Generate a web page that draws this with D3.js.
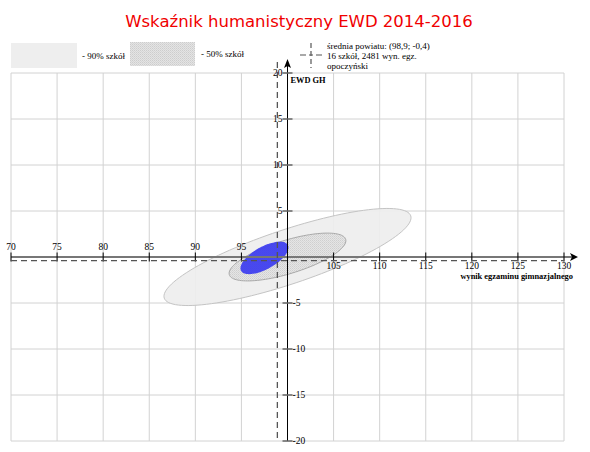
<!DOCTYPE html>
<html>
<head>
<meta charset="utf-8">
<script src="https://cdn.jsdelivr.net/npm/d3@7/dist/d3.min.js"></script>
<style>
  html, body { margin: 0; padding: 0; background: #fff; }
  svg { display: block; }
  .lbl { font-family: "Liberation Serif", serif; font-size: 9.5px; fill: #000; }
  .leg { font-family: "Liberation Serif", serif; font-size: 9px; fill: #000; }
  .ttl { font-family: "Liberation Serif", serif; font-size: 8.4px; font-weight: bold; fill: #000; }
</style>
</head>
<body>
<script>
// ---- data ----
const chartTitle = "Wskaźnik humanistyczny EWD 2014-2016";
const xTicks = [70, 75, 80, 85, 90, 95, 100, 105, 110, 115, 120, 125, 130];
const yTicks = [-20, -15, -10, -5, 0, 5, 10, 15, 20];
const xAxisTitle = "wynik egzaminu gimnazjalnego";
const yAxisTitle = "EWD GH";
const countyMean = [98.9, -0.4];
const countyInfo = ["średnia powiatu: (98,9; -0,4)", "16 szkół, 2481 wyn. egz.", "opoczyński"];
const legendLabels = ["- 90% szkół", "- 50% szkół"];
// ellipses: 90% of schools, 50% of schools, county
const ellipseNames = ["90%", "50%", "powiat"];
const ellipseCx = [100, 100, 97.5];
const ellipseCy = [0, 0, -0.1];
const ellipseA = [14.1, 6.6, 2.9];
const ellipseB = [2.95, 1.82, 1.22];
const ellipseAngle = [18.5, 17, 29];

// ---- layout ----
const W = 590, H = 452;
const svg = d3.select("body").append("svg").attr("width", W).attr("height", H);

const x = d3.scaleLinear().domain([70, 130]).range([11, 564]);
const y = d3.scaleLinear().domain([-20, 20]).range([441, 73]);
const x0 = x(100), y0 = y(0);

const defs = svg.append("defs");
const pat = defs.append("pattern").attr("id", "hatch").attr("patternUnits", "userSpaceOnUse")
  .attr("width", 2).attr("height", 2);
pat.append("rect").attr("width", 2).attr("height", 2).attr("fill", "#e4e4e4");
pat.append("rect").attr("width", 1).attr("height", 1).attr("fill", "#cdcdcd");
pat.append("rect").attr("x", 1).attr("y", 1).attr("width", 1).attr("height", 1).attr("fill", "#d6d6d6");

// title
svg.append("text").attr("x", 299).attr("y", 27).attr("text-anchor", "middle")
  .style("font-family", "'DejaVu Sans', sans-serif").style("font-size", "16.5px")
  .attr("fill", "#f00000").text(chartTitle);

// legend
svg.append("rect").attr("x", 11).attr("y", 43).attr("width", 66).attr("height", 25).attr("fill", "#eeeeee");
svg.append("text").attr("class", "leg").attr("x", 82).attr("y", 59).text(legendLabels[0]);
svg.append("rect").attr("x", 130).attr("y", 42).attr("width", 65).attr("height", 24).attr("fill", "url(#hatch)");
svg.append("text").attr("class", "leg").attr("x", 201).attr("y", 57).text(legendLabels[1]);

const lg = svg.append("g").attr("stroke", "#555").attr("stroke-width", 1.2);
lg.append("line").attr("x1", 311).attr("x2", 311).attr("y1", 43).attr("y2", 68).attr("stroke-dasharray", "5,3");
lg.append("line").attr("x1", 300).attr("x2", 322).attr("y1", 55).attr("y2", 55).attr("stroke-dasharray", "6,3,4,3,6");
countyInfo.forEach((t, i) => {
  svg.append("text").attr("class", "leg").attr("x", 327).attr("y", 48.5 + i * 10).text(t);
});

// grid
const grid = svg.append("g").attr("stroke", "#d2d2d2").attr("stroke-width", 1);
xTicks.forEach(v => grid.append("line").attr("x1", x(v)).attr("x2", x(v)).attr("y1", y(20)).attr("y2", y(-20)));
yTicks.forEach(v => grid.append("line").attr("x1", x(70)).attr("x2", x(130)).attr("y1", y(v)).attr("y2", y(v)));

// ellipses
function ellipsePoints(i) {
  const th = ellipseAngle[i] * Math.PI / 180;
  return d3.range(0, 360, 3).map(deg => {
    const t = deg * Math.PI / 180;
    const ex = ellipseA[i] * Math.cos(t), ey = ellipseB[i] * Math.sin(t);
    return [ellipseCx[i] + ex * Math.cos(th) - ey * Math.sin(th),
            ellipseCy[i] + ex * Math.sin(th) + ey * Math.cos(th)];
  });
}
const lineGen = d3.line().x(d => x(d[0])).y(d => y(d[1])).curve(d3.curveCardinalClosed);
const eFill = ["#eeeeee", "url(#hatch)", "#3c3cf0"];
const eStroke = ["#c4c4c4", "#a8a8a8", "none"];
const eOpacity = [0.92, 0.95, 0.92];
ellipseNames.forEach((n, i) => {
  svg.append("path").attr("d", lineGen(ellipsePoints(i)))
    .attr("fill", eFill[i]).attr("fill-opacity", eOpacity[i])
    .attr("stroke", eStroke[i]).attr("stroke-width", 1);
});

// x axis
svg.append("line").attr("x1", x(70)).attr("x2", 573).attr("y1", y0).attr("y2", y0)
  .attr("stroke", "#777").attr("stroke-width", 2);
svg.append("path").attr("d", `M570,${y0 - 4} L578,${y0} L570,${y0 + 4} L572,${y0} Z`).attr("fill", "#000");
xTicks.filter(v => v !== 100).forEach(v => {
  svg.append("line").attr("x1", x(v)).attr("x2", x(v)).attr("y1", y0 - 4.5).attr("y2", y0 + 4.5)
    .attr("stroke", "#000").attr("stroke-width", 1);
  svg.append("text").attr("class", "lbl").attr("x", x(v)).attr("y", v < 100 ? y0 - 7 : y0 + 12)
    .attr("text-anchor", "middle").text(v);
});
svg.append("text").attr("class", "ttl").attr("x", 573).attr("y", 278.5)
  .attr("text-anchor", "end").text(xAxisTitle);

// y axis
svg.append("line").attr("x1", x0).attr("x2", x0).attr("y1", y(-20)).attr("y2", 64)
  .attr("stroke", "#000").attr("stroke-width", 1);
svg.append("path").attr("d", `M${x0 - 3.5},68 L${x0},59 L${x0 + 3.5},68 L${x0},66 Z`).attr("fill", "#000");
yTicks.filter(v => v !== 0).forEach(v => {
  svg.append("line").attr("x1", x0 - 5).attr("x2", x0 + 5).attr("y1", y(v)).attr("y2", y(v))
    .attr("stroke", "#666").attr("stroke-width", 1.5);
  svg.append("text").attr("class", "lbl").attr("x", v > 0 ? x0 - 5 : x0 + 5).attr("y", y(v) + 3.3)
    .attr("text-anchor", v > 0 ? "end" : "start").text(v);
});
svg.append("text").attr("class", "ttl").attr("x", x0 + 3).attr("y", 82.5).text(yAxisTitle);

// county mean dashed lines
svg.append("line").attr("x1", x(countyMean[0])).attr("x2", x(countyMean[0])).attr("y1", y(-20) - 3).attr("y2", 62)
  .attr("stroke", "#555").attr("stroke-width", 1.3).attr("stroke-dasharray", "6,4");
svg.append("line").attr("x1", x(70)).attr("x2", x(130)).attr("y1", y(countyMean[1])).attr("y2", y(countyMean[1]))
  .attr("stroke", "#555").attr("stroke-width", 1.3).attr("stroke-dasharray", "6,4");
</script>
</body>
</html>
